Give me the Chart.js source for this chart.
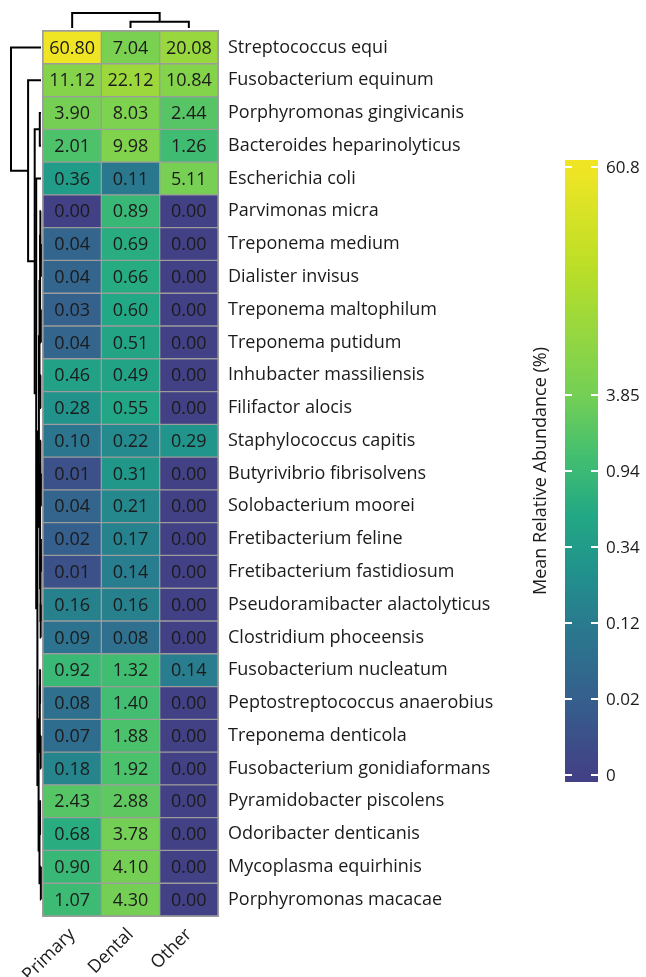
<!DOCTYPE html>
<html>
<head>
<meta charset="utf-8">
<script src="https://cdn.jsdelivr.net/npm/chart.js@4/dist/chart.umd.min.js"></script>
<style>
  body { margin: 0; background: #fff; }
  canvas { display: block; }
</style>
</head>
<body>
<canvas id="heatmap" width="646" height="977" style="width:646px;height:977px"></canvas>
<script>
// Row and column labels, in the order of the clustered heatmap
const species = [
  'Streptococcus equi', 'Fusobacterium equinum', 'Porphyromonas gingivicanis',
  'Bacteroides heparinolyticus', 'Escherichia coli', 'Parvimonas micra',
  'Treponema medium', 'Dialister invisus', 'Treponema maltophilum',
  'Treponema putidum', 'Inhubacter massiliensis', 'Filifactor alocis',
  'Staphylococcus capitis', 'Butyrivibrio fibrisolvens', 'Solobacterium moorei',
  'Fretibacterium feline', 'Fretibacterium fastidiosum', 'Pseudoramibacter alactolyticus',
  'Clostridium phoceensis', 'Fusobacterium nucleatum', 'Peptostreptococcus anaerobius',
  'Treponema denticola', 'Fusobacterium gonidiaformans', 'Pyramidobacter piscolens',
  'Odoribacter denticanis', 'Mycoplasma equirhinis', 'Porphyromonas macacae'
];
const columns = ['Primary', 'Dental', 'Other'];

// Mean relative abundance (%) per column
const primary = [60.80, 11.12, 3.90, 2.01, 0.36, 0.00, 0.04, 0.04, 0.03, 0.04, 0.46, 0.28, 0.10,
  0.01, 0.04, 0.02, 0.01, 0.16, 0.09, 0.92, 0.08, 0.07, 0.18, 2.43, 0.68, 0.90, 1.07];
const dental = [7.04, 22.12, 8.03, 9.98, 0.11, 0.89, 0.69, 0.66, 0.60, 0.51, 0.49, 0.55, 0.22,
  0.31, 0.21, 0.17, 0.14, 0.16, 0.08, 1.32, 1.40, 1.88, 1.92, 2.88, 3.78, 4.10, 4.30];
const other = [20.08, 10.84, 2.44, 1.26, 5.11, 0.00, 0.00, 0.00, 0.00, 0.00, 0.00, 0.00, 0.29,
  0.00, 0.00, 0.00, 0.00, 0.00, 0.00, 0.14, 0.00, 0.00, 0.00, 0.00, 0.00, 0.00, 0.00];
const series = [primary, dental, other];

// Colour bar breaks (tick labels) and where they sit on the viridis ramp
const breaks = [0, 0.02, 0.12, 0.34, 0.94, 3.85, 60.8];
const breakSteps = [0, 1, 2, 3, 4, 5, 8];
const breakTones = [0.19, 0.30, 0.41, 0.545, 0.675, 0.79, 0.98];

// Dendrograms as [left, right, height]; leaves are row / column indices
const rowTree = [0, [1, [[2, 3, 0.04], [4, [
  [[[[5, [6, 7, 0.005], 0.02], [8, 9, 0.006], 0.03], [10, 11, 0.02], 0.05],
    [[12, [13, 14, 0.005], 0.02], [[15, 16, 0.003], [17, 18, 0.01], 0.015], 0.03], 0.07],
  [[[19, 20, 0.03], [21, 22, 0.01], 0.04], [[23, 24, 0.03], [25, 26, 0.005], 0.05], 0.08],
  0.12], 0.16], 0.21], 0.43], 1];
const colTree = [0, [1, 2, 0.42], 1];

const FONT = "'Open Sans', 'Noto Sans', sans-serif";
const INK = '#1c1a1b';

const viridis = ['#440154', '#482475', '#414487', '#355f8d', '#2a788e', '#21918c',
  '#22a884', '#44bf70', '#7ad151', '#bddf26', '#fde725'];

function hexRgb(h) {
  return [1, 3, 5].map(i => parseInt(h.substr(i, 2), 16));
}

function viridisAt(t) {
  t = Math.min(1, Math.max(0, t));
  const p = t * (viridis.length - 1);
  const i = Math.min(viridis.length - 2, Math.floor(p));
  const f = p - i;
  const a = hexRgb(viridis[i]), b = hexRgb(viridis[i + 1]);
  const c = a.map((v, k) => Math.round(v + (b[k] - v) * f));
  return `rgb(${c[0]},${c[1]},${c[2]})`;
}

// piecewise interpolation from one array of knots to another
function interp(x, xs, ys) {
  if (x <= xs[0]) return ys[0];
  for (let i = 0; i < xs.length - 1; i++) {
    if (x <= xs[i + 1]) {
      const f = (x - xs[i]) / (xs[i + 1] - xs[i]);
      return ys[i] + f * (ys[i + 1] - ys[i]);
    }
  }
  return ys[ys.length - 1];
}

function valueColor(v) {
  return viridisAt(interp(v, breaks, breakTones));
}

// walks a [l, r, h] tree and draws the U shapes
function drawTree(ctx, node, leafPos, heightPos, horizontal) {
  if (typeof node === 'number') return { p: leafPos(node), h: 0 };
  const a = drawTree(ctx, node[0], leafPos, heightPos, horizontal);
  const b = drawTree(ctx, node[1], leafPos, heightPos, horizontal);
  const h = node[2];
  const pts = [[heightPos(a.h), a.p], [heightPos(h), a.p], [heightPos(h), b.p], [heightPos(b.h), b.p]];
  ctx.beginPath();
  pts.forEach((pt, i) => {
    const x = horizontal ? pt[0] : pt[1];
    const y = horizontal ? pt[1] : pt[0];
    if (i === 0) ctx.moveTo(x, y); else ctx.lineTo(x, y);
  });
  ctx.stroke();
  return { p: (a.p + b.p) / 2, h: h };
}

const extrasPlugin = {
  id: 'heatmapExtras',
  afterDatasetsDraw(chart) {
    const ctx = chart.ctx;
    const area = chart.chartArea;
    const xScale = chart.scales.x;
    const yScale = chart.scales.y;

    ctx.save();
    // outer frame of the grid
    ctx.strokeStyle = '#9d9d9d';
    ctx.lineWidth = 1;
    ctx.strokeRect(area.left - 0.5, area.top - 0.5, area.right - area.left + 1, area.bottom - area.top + 1);

    // cell values
    ctx.fillStyle = INK;
    ctx.font = `18px ${FONT}`;
    ctx.textAlign = 'center';
    ctx.textBaseline = 'middle';
    chart.data.datasets.forEach((ds, di) => {
      chart.getDatasetMeta(di).data.forEach((bar, ri) => {
        ctx.fillText(series[di][ri].toFixed(2), (bar.x + bar.base) / 2, bar.y + 1);
      });
    });

    // dendrograms
    ctx.strokeStyle = '#000';
    ctx.lineWidth = 2;
    ctx.lineJoin = 'miter';
    const leafX = area.left - 2, rootX = 11;
    drawTree(ctx, rowTree, i => yScale.getPixelForValue(i), h => leafX - h * (leafX - rootX), true);
    const leafY = area.top - 3, rootY = 13;
    drawTree(ctx, colTree, i => xScale.getPixelForValue(i + 0.5), h => leafY - h * (leafY - rootY), false);

    // colour bar
    const barL = 565, barW = 33;
    const zeroY = 775, unit = 76;
    const topStep = breakSteps[breakSteps.length - 1];
    const barTop = zeroY - topStep * unit - 7, barBottom = zeroY + 7;
    for (let y = barTop; y < barBottom; y++) {
      const step = (zeroY - (y + 0.5)) / unit;
      ctx.fillStyle = viridisAt(interp(step, breakSteps, breakTones));
      ctx.fillRect(barL, y, barW, 1);
    }
    ctx.strokeStyle = '#fff';
    ctx.lineWidth = 2;
    ctx.fillStyle = INK;
    ctx.font = `17px ${FONT}`;
    ctx.textAlign = 'left';
    ctx.textBaseline = 'middle';
    breaks.forEach((b, i) => {
      const y = zeroY - breakSteps[i] * unit;
      ctx.beginPath();
      ctx.moveTo(barL, y); ctx.lineTo(barL + 7, y);
      ctx.moveTo(barL + barW - 7, y); ctx.lineTo(barL + barW, y);
      ctx.stroke();
      ctx.fillText(String(b), barL + barW + 8, y + 1);
    });

    // colour bar title
    ctx.translate(541, zeroY - 4 * unit);
    ctx.rotate(-Math.PI / 2);
    ctx.textAlign = 'center';
    ctx.font = `18px ${FONT}`;
    ctx.fillText('Mean Relative Abundance (%)', 0, 0);
    ctx.restore();
  }
};

new Chart(document.getElementById('heatmap').getContext('2d'), {
  type: 'bar',
  data: {
    labels: species,
    datasets: columns.map((name, ci) => ({
      label: name,
      data: species.map(() => [ci, ci + 1]),
      backgroundColor: c => valueColor(series[c.datasetIndex][c.dataIndex]),
      borderColor: '#9d9d9d',
      borderWidth: 1,
      borderSkipped: false,
      barPercentage: 1,
      categoryPercentage: 1,
      grouped: false
    }))
  },
  options: {
    indexAxis: 'y',
    responsive: false,
    animation: false,
    layout: { padding: { left: 43, top: 31, right: 128, bottom: 0 } },
    plugins: {
      legend: { display: false },
      tooltip: { enabled: false }
    },
    scales: {
      x: {
        type: 'linear',
        min: 0,
        max: columns.length,
        grid: { display: false },
        border: { display: false },
        afterBuildTicks: axis => {
          axis.ticks = columns.map((c, i) => ({ value: i + 0.5 }));
        },
        afterFit: scale => { scale.height = 61; },
        ticks: {
          callback: (v, i) => columns[i],
          minRotation: 45,
          maxRotation: 45,
          padding: 0,
          color: INK,
          font: { family: FONT, size: 18 }
        }
      },
      y: {
        type: 'category',
        position: 'right',
        grid: { display: false },
        border: { display: false },
        afterFit: scale => { scale.width = 300; },
        ticks: {
          autoSkip: false,
          padding: 2,
          color: INK,
          font: { family: FONT, size: 18 }
        }
      }
    }
  },
  plugins: [extrasPlugin]
});
</script>
</body>
</html>
